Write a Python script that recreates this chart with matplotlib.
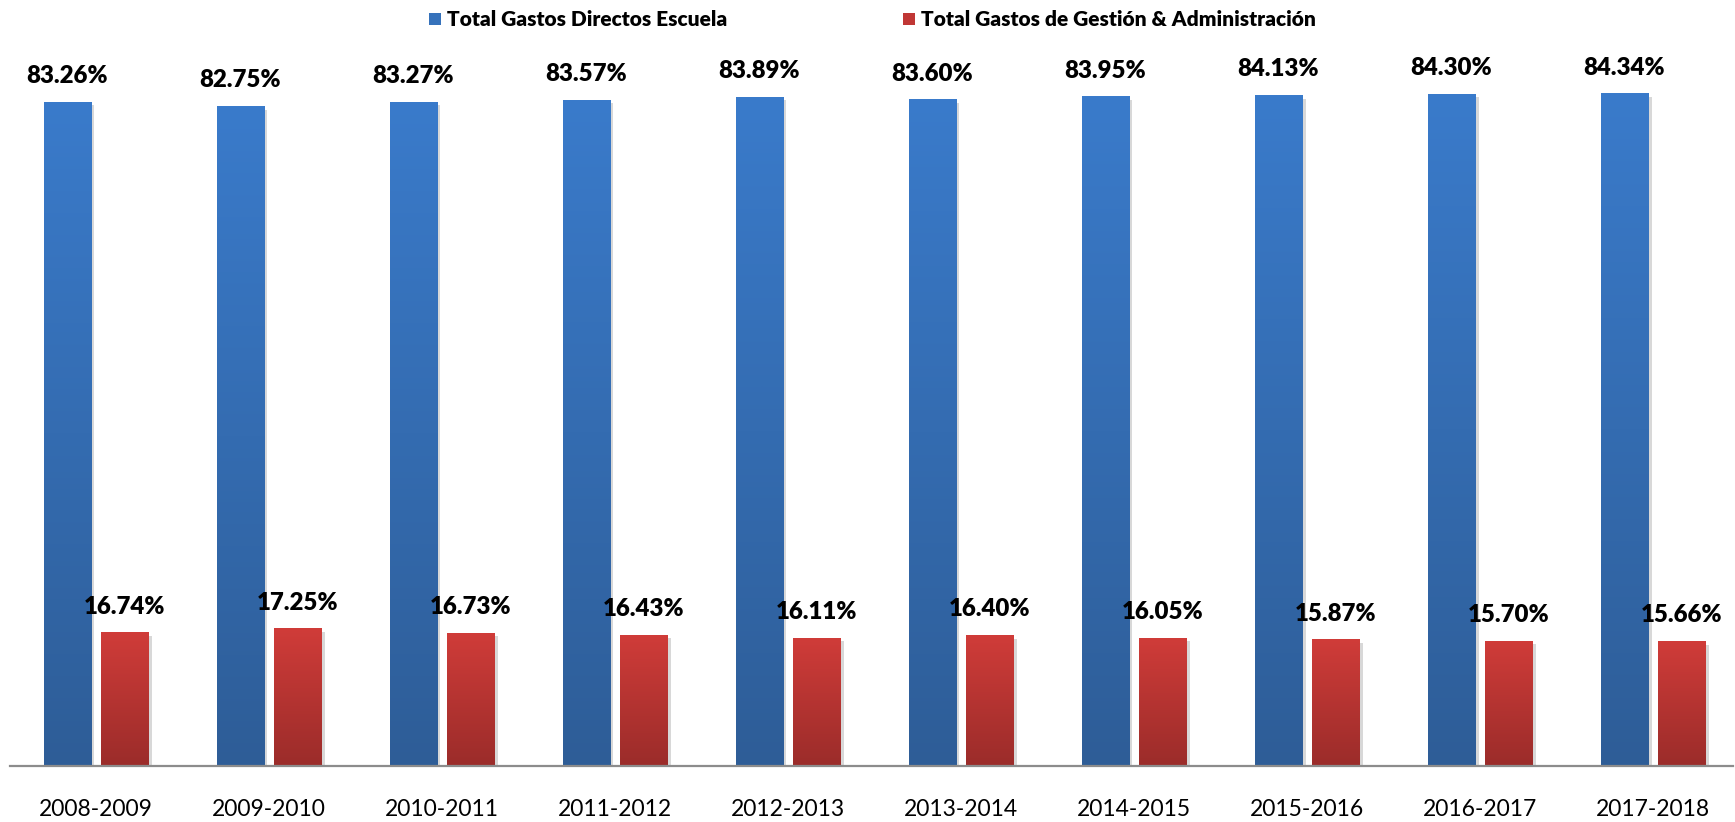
import numpy as np
import matplotlib
matplotlib.use("Agg")
import matplotlib.pyplot as plt
from matplotlib import patheffects as pe
from matplotlib.patches import Patch

plt.rcParams['font.family'] = ['Lato', 'DejaVu Sans']

years = ["2008-2009", "2009-2010", "2010-2011", "2011-2012", "2012-2013",
         "2013-2014", "2014-2015", "2015-2016", "2016-2017", "2017-2018"]
directos = [83.26, 82.75, 83.27, 83.57, 83.89, 83.60, 83.95, 84.13, 84.30, 84.34]
gestion = [16.74, 17.25, 16.73, 16.43, 16.11, 16.40, 16.05, 15.87, 15.70, 15.66]
series_names = ["Total Gastos Directos Escuela", "Total Gastos de Gestión & Administración"]

blue_top, blue_bot = np.array([58, 123, 203]) / 255, np.array([46, 93, 151]) / 255
red_top, red_bot = np.array([208, 60, 57]) / 255, np.array([155, 44, 42]) / 255

W, H = 1735, 822
fig = plt.figure(figsize=(W / 100, H / 100), dpi=100)
ax = fig.add_axes([10 / W, (H - 766) / H, (1733 - 10) / W, (766 - 46) / H])

x = np.arange(len(years))
bw = 0.272
off = 0.165
shadow = [pe.SimplePatchShadow(offset=(2.5, -2.5), shadow_rgbFace=(0.5, 0.5, 0.5), alpha=0.3), pe.Normal()]
b1 = ax.bar(x - off, directos, bw, color=tuple((blue_top + blue_bot) / 2), zorder=2)
b2 = ax.bar(x + off, gestion, bw, color=tuple((red_top + red_bot) / 2), zorder=2)


def gradient(bars, top, bot):
    t = np.linspace(0, 1, 256)[:, None, None]
    img = top[None, None, :] * (1 - t) + bot[None, None, :] * t
    for p in bars:
        p.set_path_effects(shadow)
        x0, y0, w, h = p.get_x(), p.get_y(), p.get_width(), p.get_height()
        im = ax.imshow(img, extent=[x0, x0 + w, y0, y0 + h], aspect='auto',
                       origin='upper', zorder=3, interpolation='bilinear')
        im.set_clip_path(p)


gradient(b1, blue_top, blue_bot)
gradient(b2, red_top, red_bot)

for bars, vals in ((b1, directos), (b2, gestion)):
    for p, v in zip(bars, vals):
        ax.annotate(f"{v:.2f}%", (p.get_x() + p.get_width() / 2, p.get_height()),
                    xytext=(0, 13.5), textcoords='offset points', ha='center', va='baseline',
                    fontsize=17.3, fontweight='heavy', color='black', zorder=5)

ax.set_xlim(-0.497, 9.462)
ax.set_ylim(0, 90.28)
ax.set_xticks(x)
ax.set_xticklabels(years, fontsize=16.5)
ax.tick_params(axis='x', length=0, pad=24)
ax.set_yticks([])
for s in ('top', 'right', 'left'):
    ax.spines[s].set_visible(False)
ax.spines['bottom'].set_color('#8c8c8c')
ax.spines['bottom'].set_linewidth(1.6)
ax.spines['bottom'].set_zorder(6)

handles = [Patch(facecolor=tuple(blue_top * 0.7 + blue_bot * 0.3)),
           Patch(facecolor=tuple(red_top * 0.7 + red_bot * 0.3))]
fig.legend(handles, series_names, loc='center', bbox_to_anchor=(0.503, 1 - 20 / H),
           ncol=2, frameon=False, prop={'weight': 'heavy', 'size': 15},
           handlelength=0.55, handleheight=0.55, handletextpad=0.3, columnspacing=8.45)

fig.savefig("out.png", dpi=100)
